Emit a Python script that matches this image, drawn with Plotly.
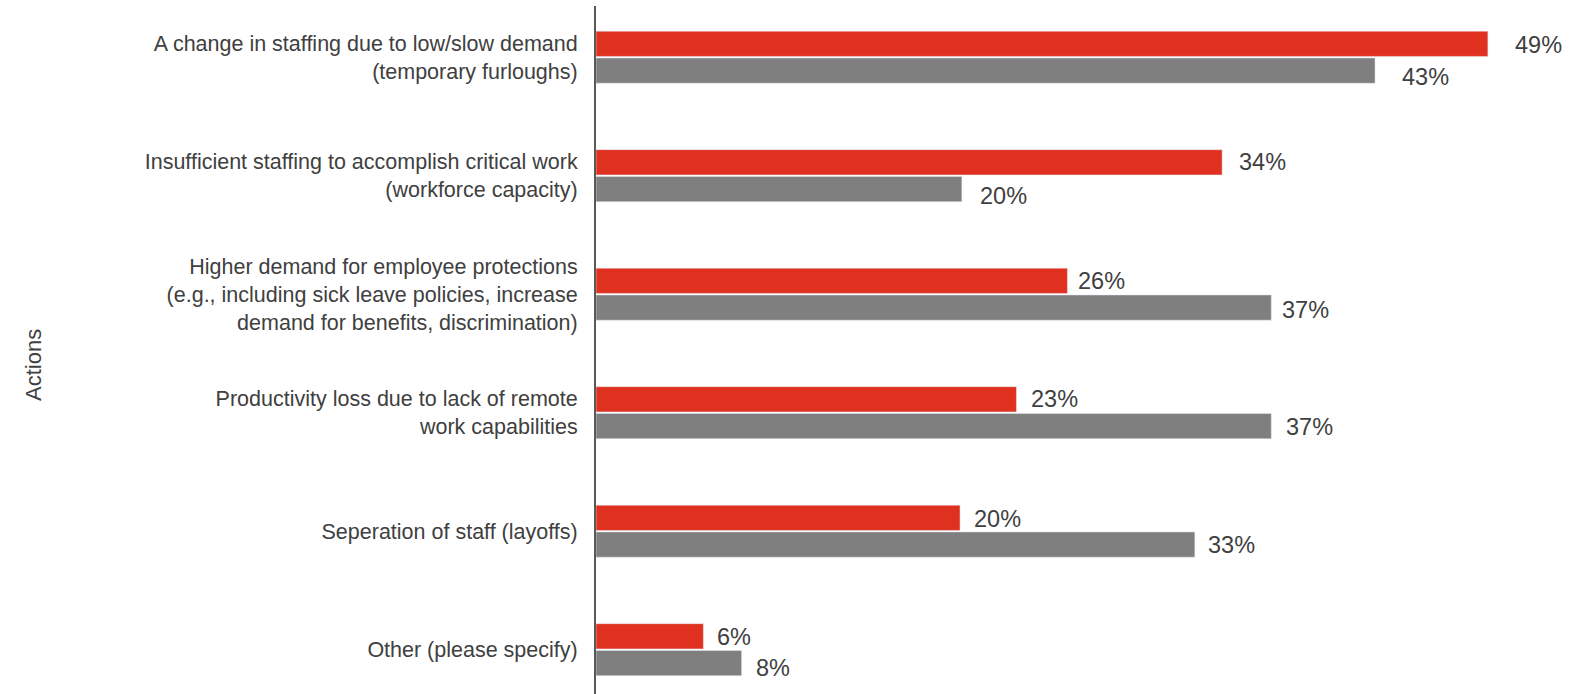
import plotly.graph_objects as go

categories = [
    "A change in staffing due to low/slow demand<br>(temporary furloughs)",
    "Insufficient staffing to accomplish critical work<br>(workforce capacity)",
    "Higher demand for employee protections<br>(e.g., including sick leave policies, increase<br>demand for benefits, discrimination)",
    "Productivity loss due to lack of remote<br>work capabilities",
    "Seperation of staff (layoffs)",
    "Other (please specify)",
]
series_red = [49.0, 34.4, 25.9, 23.1, 20.0, 5.9]
series_gray = [42.8, 20.1, 37.1, 37.1, 32.9, 8.0]

# label placement styling (pixel gap after bar end, downward offset from bar centre)
red_gap = [25, 15, 9, 13, 12, 12]
gray_gap = [25, 16, 9, 13, 11, 12]
red_drop = [1.7, 0, 0, 0, 1.5, 0.5]
gray_drop = [6, 7, 2, 0.5, 0, 4.5]

RED = "#E03120"
GRAY = "#7F7F7F"
TXT = "#404040"
FONT = "Liberation Sans, Arial, sans-serif"
HALF = 13.4  # px between group centre and each bar centre

fig = go.Figure()
fig.add_trace(go.Bar(y=categories, x=series_red, orientation="h", marker_color=RED,
                     name="red", showlegend=False, hoverinfo="skip"))
fig.add_trace(go.Bar(y=categories, x=series_gray, orientation="h", marker_color=GRAY,
                     name="gray", showlegend=False, hoverinfo="skip"))

annotations = []
for cat, v, g, d in zip(categories, series_red, red_gap, red_drop):
    annotations.append(dict(x=v, y=cat, xref="x", yref="y", text=f"{round(v)}%", showarrow=False,
                            xanchor="left", yanchor="middle", xshift=g, yshift=HALF - d,
                            font=dict(family=FONT, size=23.5, color=TXT)))
for cat, v, g, d in zip(categories, series_gray, gray_gap, gray_drop):
    annotations.append(dict(x=v, y=cat, xref="x", yref="y", text=f"{round(v)}%", showarrow=False,
                            xanchor="left", yanchor="middle", xshift=g, yshift=-HALF - d,
                            font=dict(family=FONT, size=23.5, color=TXT)))
annotations.append(dict(text="Actions", xref="paper", yref="paper", x=0, y=0.5,
                        xanchor="center", yanchor="middle", xshift=-563, yshift=-15,
                        textangle=-90, showarrow=False,
                        font=dict(family=FONT, size=22, color=TXT)))

fig.update_layout(
    width=1588, height=694,
    margin=dict(l=596, r=0, t=6, b=0),
    paper_bgcolor="white", plot_bgcolor="white",
    barmode="group", bargap=0.548, bargroupgap=0.056,
    font=dict(family=FONT, color=TXT),
    annotations=annotations,
    xaxis=dict(range=[0, 54.5], showticklabels=False, showgrid=False, zeroline=False,
               showline=False, ticks=""),
    yaxis=dict(categoryorder="array", categoryarray=categories,
               range=[5.374, -0.432], showgrid=False, zeroline=False,
               showline=True, linecolor="#595959", linewidth=2,
               ticks="", ticklabelstandoff=12,
               tickfont=dict(family=FONT, size=21.5, color=TXT),
               automargin=False),
)

fig.write_html("out.html")
